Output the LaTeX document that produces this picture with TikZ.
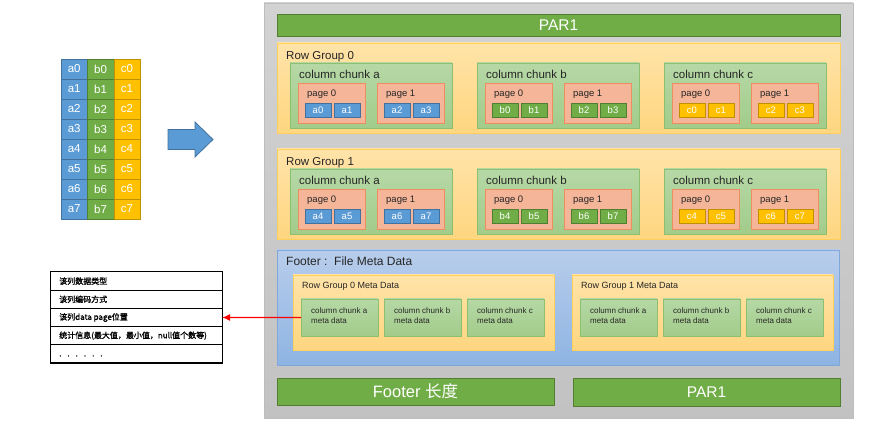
\documentclass[tikz,border=0pt]{standalone}
\usepackage{fontspec}
\setmainfont{Liberation Sans}
\newfontfamily\cjk{Noto Sans CJK SC}
\newfontfamily\cjkb[FakeBold=1.5]{Noto Sans CJK SC}
\usetikzlibrary{arrows.meta}
\definecolor{blueC}{HTML}{5B9BD5}
\definecolor{blueB}{HTML}{41719C}
\definecolor{greenC}{HTML}{70AD47}
\definecolor{greenB}{HTML}{507E32}
\definecolor{yellowC}{HTML}{FFC000}
\definecolor{yellowB}{HTML}{BF9000}
\definecolor{grayT}{HTML}{D2D2D2}
\definecolor{grayB}{HTML}{C2C2C2}
\definecolor{grayD}{HTML}{BDBDBD}
\definecolor{rgT}{HTML}{FFE3A8}
\definecolor{rgB}{HTML}{FFD680}
\definecolor{rgD}{HTML}{FFD05A}
\definecolor{chT}{HTML}{B6D8A6}
\definecolor{chB}{HTML}{A2CC8A}
\definecolor{chD}{HTML}{8CC06E}
\definecolor{pgF}{HTML}{F5B599}
\definecolor{pgD}{HTML}{EE8E5E}
\definecolor{ftT}{HTML}{B8CDEB}
\definecolor{ftB}{HTML}{8EB4E3}
\definecolor{ftD}{HTML}{7FA7D9}
\begin{document}
\begin{tikzpicture}[x=1pt,y=-1pt,
  box/.style={anchor=north west, inner sep=0pt, outer sep=0pt, line width=0.8pt},
  bgbox/.style={box, top color=grayT, bottom color=grayB, draw=grayD},
  greenbar/.style={box, fill=greenC, draw=greenB, text=white, font=\fontsize{15.5}{18}\selectfont},
  rgbox/.style={box, top color=rgT, bottom color=rgB, draw=rgD},
  chbox/.style={box, top color=chT, bottom color=chB, draw=chD},
  pgbox/.style={box, fill=pgF, draw=pgD},
  ftbox/.style={box, top color=ftT, bottom color=ftB, draw=ftD},
  cell/.style={box, text=white, font=\fontsize{9.5}{11}\selectfont, minimum width=26pt, minimum height=14pt},
  tcell/.style={box, text=white, font=\fontsize{11.5}{13}\selectfont, minimum width=26.4pt, minimum height=20pt, line width=0.6pt},
  lbl/.style={anchor=base west, inner sep=0pt, font=\fontsize{11.5}{13}\selectfont, text=black!85},
  plbl/.style={anchor=base west, inner sep=0pt, font=\fontsize{9.5}{11}\selectfont, text=black!85},
  mlbl/.style={anchor=base west, inner sep=0pt, font=\fontsize{9}{11}\selectfont, text=black!85},
  mtxt/.style={anchor=north west, inner sep=0pt, align=left, font=\fontsize{8}{10}\selectfont, text=black!85},
  lrow/.style={box, draw=black, line width=1pt, minimum width=172pt, minimum height=18.2pt},
  ltxt/.style={anchor=west, inner sep=0pt, font=\cjkb\fontsize{8}{10}\selectfont},
  redarrow/.style={draw=red, line width=1.4pt, -{Latex[length=8pt,width=7pt]}}
]
\useasboundingbox (0,0) rectangle (873,430);

% ---------- left table ----------
\foreach \r in {0,...,7}{
  \foreach \c/\i/\f/\b in {a/0/blueC/blueB, b/1/greenC/greenB, c/2/yellowC/yellowB}{
    \node[tcell, fill=\f, draw=\b] (t\c\r) at (61+26.4*\i, 59+20*\r) {\c\r};
  }
}

% ---------- block arrow ----------
\draw[fill=blueC, draw=blueB, line width=0.8pt]
  (168,129.5) -- (195,129.5) -- (195,122) -- (213,139.5) -- (195,157) -- (195,149.5) -- (168,149.5) -- cycle;

% ---------- file ----------
\node[bgbox, minimum width=589pt, minimum height=415pt] (file) at (264,3) {};
\node[greenbar, minimum width=563pt, minimum height=22pt] (par1top) at (277,14) {PAR1};

\foreach \g/\y in {0/43,1/149}{
  \node[rgbox, minimum width=563pt, minimum height=90pt] (rg\g) at (277,\y) {};
  \node[lbl] (rg\g l) at (286,\y+17) {Row Group \g};
  \foreach \c/\cx/\f/\b in {a/290/blueC/blueB, b/477/greenC/greenB, c/664/yellowC/yellowB}{
    \node[chbox, minimum width=162pt, minimum height=65pt] (ch\g\c) at (\cx,\y+20) {};
    \node[lbl] (ch\g\c l) at (\cx+9,\y+36) {column chunk \c};
    \foreach \p in {0,1}{
      \pgfmathtruncatemacro\px{\cx+8+79*\p}
      \node[pgbox, minimum width=67pt, minimum height=40pt] (pg\g\c\p) at (\px,\y+40) {};
      \node[plbl] (pg\g\c\p l) at (\px+9,\y+54) {page \p};
      \foreach \k in {0,1}{
        \pgfmathtruncatemacro\idx{4*\g+2*\p+\k}
        \node[cell, fill=\f, draw=\b] (cell\c\idx) at (\px+7+29*\k,\y+60) {\c\idx};
      }
    }
  }
}

% ---------- footer ----------
\node[ftbox, minimum width=562pt, minimum height=115pt] (footer) at (277,250) {};
\node[lbl, font=\fontsize{12}{14}\selectfont] (footerl) at (286,266) {Footer :\ \ File Meta Data};

\foreach \g/\mx in {0/293,1/572}{
  \node[rgbox, minimum width=261pt, minimum height=75pt] (meta\g) at (\mx,275) {};
  \node[mlbl] (meta\g l) at (\mx+9,289) {Row Group \g\ Meta Data};
  \foreach \c/\i in {a/0,b/1,c/2}{
    \node[chbox, minimum width=77pt, minimum height=37pt] (mc\g\c) at (\mx+8+83*\i,299) {};
    \node[mtxt] (mc\g\c t) at (\mx+18+83*\i,308) {column chunk \c\\meta data};
  }
}

\node[greenbar, minimum width=277pt, minimum height=27pt, font=\fontsize{16.5}{19}\selectfont] (flen) at (277,378) {Footer {\cjk 长度}};
\node[greenbar, minimum width=267pt, minimum height=28pt] (par1bot) at (573,378) {PAR1};

% ---------- left list ----------
\foreach \t [count=\n from 0] in {该列数据类型, 该列编码方式, 该列data page位置, 统计信息(最大值，最小值，null值个数等)}{
  \node[lrow] (li\n) at (50,272+18.2*\n) {};
  \node[ltxt] (li\n t) at ([xshift=9pt]li\n.west) {\t};
}
\node[lrow] (li4) at (50,272+18.2*4) {};
\node[ltxt] (li4t) at ([xshift=9pt,yshift=-2pt]li4.west) {.\hspace{6pt}.\hspace{6pt}.\hspace{6pt}.\hspace{6pt}.\hspace{6pt}.};

\draw[redarrow] (mc0a.west) -- (li2.east);
\end{tikzpicture}
\end{document}
